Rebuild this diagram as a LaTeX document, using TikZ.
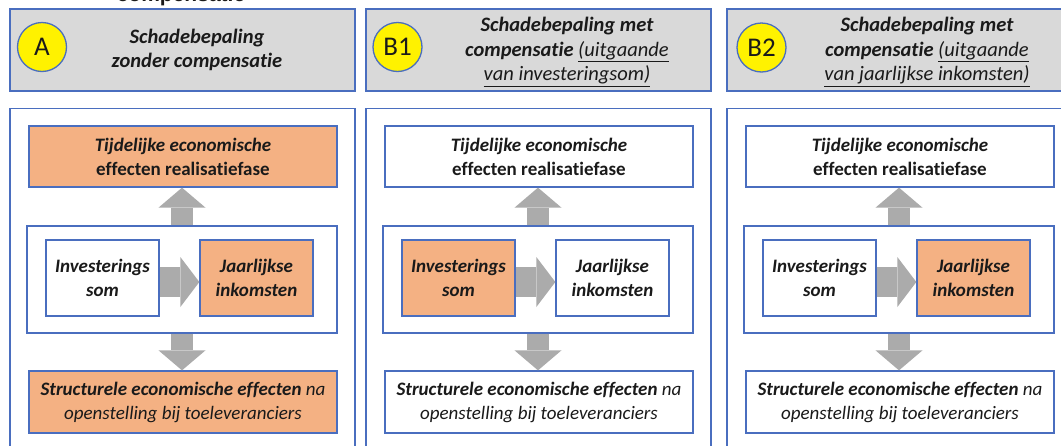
\documentclass[tikz,border=0pt]{standalone}
\usepackage{fontspec}
\setmainfont{Carlito}[RawFeature=-liga]
\newfontfamily\arialfont{Liberation Sans}
\usetikzlibrary{arrows.meta}
\definecolor{frameblue}{HTML}{4A6EBF}
\definecolor{orangefill}{HTML}{F4B183}
\definecolor{headgray}{HTML}{D9D9D9}
\definecolor{arrowgray}{HTML}{ABABAB}
\definecolor{txt}{HTML}{1A1A1A}
\tikzset{
  frame/.style={draw=frameblue, line width=1.3pt, inner sep=0pt},
  box/.style={draw=frameblue, line width=1.3pt, fill=white, align=center, text=txt,
    font=\fontsize{19}{24}\selectfont, inner sep=0pt},
  boldbox/.style={box, font=\bfseries\fontsize{19}{24}\selectfont},
  bibox/.style={box, font=\bfseries\itshape\fontsize{19}{24}\selectfont},
  hl/.style={fill=orangefill},
  nofill/.style={},
  badge/.style={circle, draw=frameblue, line width=1.3pt, fill=yellow, minimum size=49pt,
    inner sep=0pt, text=txt, font=\fontsize{27}{27}\selectfont},
  headtext/.style={align=center, text=txt, font=\bfseries\itshape\fontsize{20.5}{24.5}\selectfont},
  blockarrow/.style={draw=arrowgray, line width=22pt,
    -{Triangle[width=47pt,length=20pt,line width=0pt]}},
  sidearrow/.style={draw=arrowgray, line width=30pt,
    -{Triangle[width=50pt,length=19pt,line width=0pt]}}
}
\newcommand\mypanel[5]{%
\begin{scope}[xshift=#2pt]
  \node[frame, minimum width=345pt, minimum height=350pt, anchor=north] (#1body) at (182.5,108) {};
  \node[frame, fill=headgray, minimum width=345pt, minimum height=82pt] (#1head) at (182.5,50) {};
  \node[boldbox, #3, minimum width=308pt, minimum height=61pt] (#1top) at (183,156.5)
    {\textit{Tijdelijke economische}\\effecten realisatiefase};
  \node[box, minimum width=310pt, minimum height=107pt] (#1mid) at (182,279.5) {};
  \node[bibox, #4, minimum width=113pt, minimum height=76pt] (#1inv) at (102.5,278)
    {Investerings\\som};
  \node[bibox, #5, minimum width=113pt, minimum height=76pt] (#1jaar) at (256.5,278)
    {Jaarlijkse\\inkomsten};
  \node[box, #3, minimum width=308pt, minimum height=62pt] (#1bot) at (183,402)
    {\textbf{\textit{Structurele economische effecten}} \textit{na}\\\textit{openstelling bij toeleveranciers}};
  \draw[blockarrow] (#1mid.north) -- (#1top.south -| #1mid.north);
  \draw[blockarrow] (#1mid.south) -- (#1bot.north -| #1mid.south);
  \draw[sidearrow] ([yshift=-4pt]#1inv.east) -- ([yshift=-4pt]#1jaar.west);
\end{scope}}
\begin{document}
\begin{tikzpicture}[x=1pt,y=-1pt]
  \useasboundingbox (0,0) rectangle (1061,445);
  \clip (0,0) rectangle (1061,445);
  \fill[white] (0,0) rectangle (1061,445);
  \node[anchor=base, text=txt, font=\arialfont\bfseries\fontsize{21}{21}\selectfont] (cut) at (181,1) {compensatie};
  \mypanel{A}{0}{hl}{nofill}{hl}
  \mypanel{B}{356}{nofill}{hl}{nofill}
  \mypanel{C}{717}{nofill}{nofill}{hl}
  \node[badge] (Abadge) at (42,47) {A};
  \node[badge] (Bbadge) at (397.5,47) {B1};
  \node[badge] (Cbadge) at (761.5,47.5) {B2};
  \node[headtext] (Atitle) at (197,50) {Schadebepaling\\zonder compensatie};
  \node[headtext] (Btitle) at (567,52) {Schadebepaling met\\compensatie \underline{\mdseries (uitgaande}\\\underline{\mdseries van investeringsom)}};
  \node[headtext] (Ctitle) at (927,52) {Schadebepaling met\\compensatie \underline{\mdseries (uitgaande}\\\underline{\mdseries van jaarlijkse inkomsten)}};
\end{tikzpicture}
\end{document}
